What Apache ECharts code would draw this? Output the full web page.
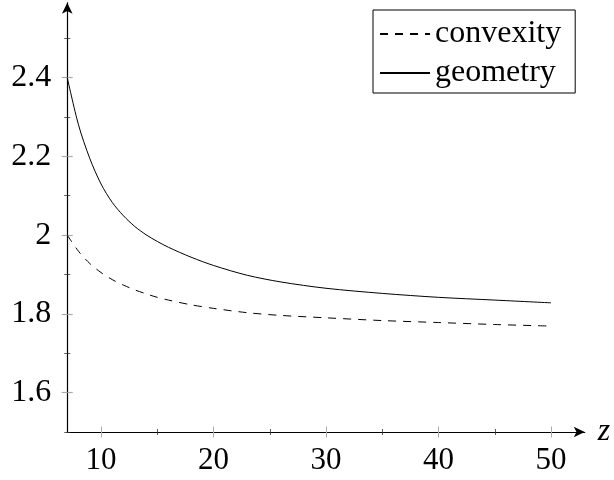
<!DOCTYPE html>
<html>
<head>
<meta charset="utf-8">
<script src="https://cdn.jsdelivr.net/npm/echarts@6/dist/echarts.min.js"></script>
<style>html,body{margin:0;padding:0;background:#fff}#c{width:614px;height:480px}</style>
</head>
<body>
<div id="c"></div>
<script>
const zValues = [7, 8, 9, 10, 11, 12, 13, 14, 15, 16, 18, 20, 23, 26, 30, 35, 40, 45, 50];
const convexity = [2.00, 1.959, 1.928, 1.905, 1.887, 1.873, 1.861, 1.851, 1.842, 1.835, 1.823, 1.814, 1.803, 1.796, 1.790, 1.783, 1.778, 1.773, 1.769];
const geometry = [2.40, 2.28, 2.195, 2.13, 2.083, 2.049, 2.022, 2.001, 1.984, 1.969, 1.944, 1.923, 1.898, 1.881, 1.865, 1.852, 1.842, 1.835, 1.828];
const xMajorTicks = [10, 20, 30, 40, 50];
const xMinorTicks = [15, 25, 35, 45];
const yMajorTicks = [1.6, 1.8, 2.0, 2.2, 2.4];
const yMinorTicks = [1.5, 1.7, 1.9, 2.1, 2.3, 2.5];
const yLabels = {1.6: '1.6', 1.8: '1.8', 2: '2', 2.2: '2.2', 2.4: '2.4'};
const seriesNames = ['convexity', 'geometry'];

const FONT = 'Liberation Serif';
const X_MIN = 7, X_MAX = 53, Y_MIN = 1.5, Y_MAX = 2.59;

function xAx(opts) {
  return Object.assign({
    type: 'value', min: X_MIN, max: X_MAX, position: 'bottom',
    axisLine: { show: false }, splitLine: { show: false },
    axisLabel: { show: false }, axisTick: { show: false }
  }, opts);
}
function yAx(opts) {
  return Object.assign({
    type: 'value', min: Y_MIN, max: Y_MAX, position: 'left',
    axisLine: { show: false }, splitLine: { show: false },
    axisLabel: { show: false }, axisTick: { show: false }
  }, opts);
}

const chart = echarts.init(document.getElementById('c'), null, { renderer: 'canvas' });
chart.setOption({
  animation: false,
  backgroundColor: '#fff',
  grid: { left: 67.25, right: 29.25, top: 2.8, bottom: 48, containLabel: false },
  legend: {
    orient: 'vertical', left: 373, top: 10,
    padding: [8, 14, 4, 6], itemGap: 7, itemWidth: 50, itemHeight: 2,
    borderColor: '#000', borderWidth: 1, borderRadius: 0,
    itemStyle: { color: 'rgba(0,0,0,0)', borderWidth: 0, opacity: 0 },
    textStyle: { fontFamily: FONT, fontSize: 32, color: '#000', lineHeight: 31 },
    data: seriesNames
  },
  xAxis: [
    xAx({
      name: 'z', nameLocation: 'end', nameGap: 13,
      nameTextStyle: { fontFamily: FONT, fontStyle: 'italic', fontSize: 32, color: '#000', verticalAlign: 'middle' },
      axisLine: { show: true, onZero: false, symbol: ['none', 'arrow'], symbolSize: [8, 11], lineStyle: { color: '#000', width: 1.2 } },
      axisTick: { show: true, inside: false, length: 5.5, customValues: xMajorTicks, lineStyle: { color: '#aaa', width: 1 } },
      axisLabel: { show: true, customValues: xMajorTicks, margin: 13, fontFamily: FONT, fontSize: 31, color: '#000' }
    }),
    xAx({ axisTick: { show: true, inside: true, length: 5.5, customValues: xMajorTicks, lineStyle: { color: '#aaa', width: 1 } } }),
    xAx({ axisTick: { show: true, inside: false, length: 3, customValues: xMinorTicks, lineStyle: { color: '#333', width: 0.8 } } }),
    xAx({ axisTick: { show: true, inside: true, length: 3, customValues: xMinorTicks, lineStyle: { color: '#333', width: 0.8 } } })
  ],
  yAxis: [
    yAx({
      axisLine: { show: true, onZero: false, symbol: ['none', 'arrow'], symbolSize: [8, 11], lineStyle: { color: '#000', width: 1.2 } },
      axisTick: { show: true, inside: false, length: 5.5, customValues: yMajorTicks, lineStyle: { color: '#aaa', width: 1.2 } },
      axisLabel: { show: true, customValues: yMajorTicks, margin: 16, fontFamily: FONT, fontSize: 32, color: '#000',
        formatter: v => yLabels[Math.round(v * 10) / 10] || String(v) }
    }),
    yAx({ axisTick: { show: true, inside: true, length: 5.5, customValues: yMajorTicks, lineStyle: { color: '#aaa', width: 1.2 } } }),
    yAx({ axisTick: { show: true, inside: false, length: 3, customValues: yMinorTicks, lineStyle: { color: '#333', width: 0.8 } } }),
    yAx({ axisTick: { show: true, inside: true, length: 3, customValues: yMinorTicks, lineStyle: { color: '#333', width: 0.8 } } })
  ],
  series: [
    {
      name: seriesNames[0], type: 'line', xAxisIndex: 0, yAxisIndex: 0,
      data: zValues.map((z, i) => [z, convexity[i]]),
      smooth: 0.3, showSymbol: false, symbol: 'none',
      lineStyle: { color: '#000', width: 1, type: [8, 7] }, itemStyle: { color: '#000' }
    },
    {
      name: seriesNames[1], type: 'line', xAxisIndex: 0, yAxisIndex: 0,
      data: zValues.map((z, i) => [z, geometry[i]]),
      smooth: 0.3, showSymbol: false, symbol: 'none',
      lineStyle: { color: '#000', width: 1 }, itemStyle: { color: '#000' }
    }
  ]
});
</script>
</body>
</html>
